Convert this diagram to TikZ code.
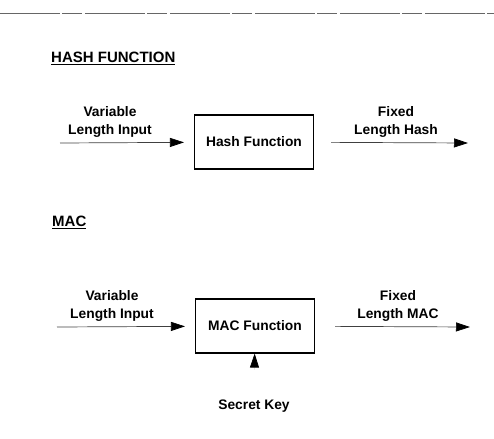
\documentclass[tikz,border=0pt]{standalone}
\usepackage{fontspec}
\setmainfont{Liberation Sans}
\usetikzlibrary{arrows.meta, positioning}

\begin{document}
\begin{tikzpicture}[x=1pt, y=-1pt,
  fnbox/.style={draw, line width=1.1pt, minimum width=119pt, minimum height=54pt,
                inner sep=0pt, font=\fontsize{13.8}{17}\selectfont\bfseries},
  lbl/.style={align=center, inner sep=0pt, font=\fontsize{13.8}{18}\selectfont\bfseries},
  hdr/.style={anchor=west, inner sep=0pt, font=\fontsize{15}{18}\selectfont\bfseries},
  flow/.style={line width=0.7pt, draw=black!75,
               -{Triangle[length=14pt, width=9pt, color=black]}}]

  \useasboundingbox (0,0) rectangle (494,438);

  % rule at the top of the page
  \draw[black!60, line width=0.8pt, dash pattern=on 60pt off 2pt on 20pt off 3pt]
    (0,13) -- (494,13);

  % Hash function
  \node[hdr] (hhdr) at (51,58) {\underline{HASH FUNCTION}};
  \node[fnbox] (hash) at (254,142) {Hash Function};
  \coordinate (hin) at (60,143);
  \coordinate (hout) at (468,143);
  \node[lbl] (hinlbl) at (110,122) {Variable\\Length Input};
  \node[lbl] (houtlbl) at (396,122) {Fixed\\Length Hash};
  \draw[flow, shorten >=10pt] (hin) -- (hash);
  \draw[flow, shorten <=17pt] (hash) -- (hout);

  % MAC
  \node[hdr] (mhdr) at (52,222) {\underline{MAC}};
  \node[fnbox] (mac) at (255,326) {MAC Function};
  \coordinate (min) at (57,327);
  \coordinate (mout) at (470,327);
  \node[lbl] (minlbl) at (112,306) {Variable\\Length Input};
  \node[lbl] (moutlbl) at (398,306) {Fixed\\Length MAC};
  \draw[flow, shorten >=10pt] (min) -- (mac);
  \draw[flow, shorten <=20pt] (mac) -- (mout);

  % key input
  \node[lbl] (key) at (254,406) {Secret Key};
  \draw[flow, draw=black!10, shorten <=30pt] (key) -- (mac);

\end{tikzpicture}
\end{document}
